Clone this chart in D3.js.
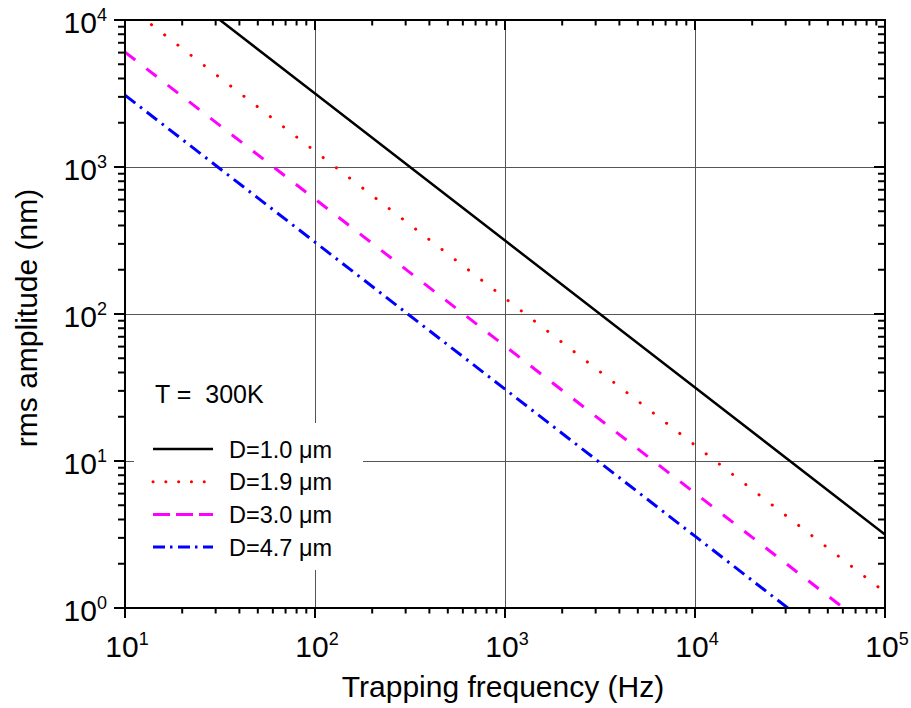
<!DOCTYPE html>
<html>
<head>
<meta charset="utf-8">
<script src="https://cdn.jsdelivr.net/npm/d3@7"></script>
<style>
  body { margin: 0; background: #fff; }
  svg { display: block; font-family: "Liberation Sans", Arial, sans-serif; }
  text { white-space: pre; }
</style>
</head>
<body>
<svg id="chart" width="911" height="708"></svg>
<script>
// ---- data ----
const frequencies = [10, 100, 1000, 10000, 100000];          // Hz
const ampD10 = [31600, 3160, 316, 31.6, 3.16];               // nm, D=1.0 µm
const ampD19 = [12800, 1280, 128, 12.8, 1.28];               // nm, D=1.9 µm
const ampD30 = [6050, 605, 60.5, 6.05, 0.605];               // nm, D=3.0 µm
const ampD47 = [3080, 308, 30.8, 3.08, 0.308];               // nm, D=4.7 µm
const seriesNames = ["D=1.0 \u03bcm", "D=1.9 \u03bcm", "D=3.0 \u03bcm", "D=4.7 \u03bcm"];
const xTickExps = [1, 2, 3, 4, 5];
const yTickExps = [0, 1, 2, 3, 4];
const annotation = "T =  300K";
const xTitle = "Trapping frequency (Hz)";
const yTitle = "rms amplitude (nm)";

// ---- layout ----
const L = 125, R = 885, T = 20, B = 608;
const svg = d3.select("#chart");
const x = d3.scaleLog().domain([10, 1e5]).range([L, R]);
const y = d3.scaleLog().domain([1, 1e4]).range([B, T]);

const isMajor = v => Math.abs(Math.log10(v) - Math.round(Math.log10(v))) < 1e-9;

// grid lines at major ticks (interior)
const grid = svg.append("g").attr("stroke", "#555").attr("stroke-width", 1);
x.ticks().filter(isMajor).forEach(v => {
  const px = Math.round(x(v)) + 0.5;
  if (px > L + 2 && px < R - 2)
    grid.append("line").attr("x1", px).attr("x2", px).attr("y1", T).attr("y2", B);
});
y.ticks().filter(isMajor).forEach(v => {
  const py = Math.round(y(v)) + 0.5;
  if (py > T + 2 && py < B - 2)
    grid.append("line").attr("x1", L).attr("x2", R).attr("y1", py).attr("y2", py);
});

// white legend backing box (hides grid lines)
svg.append("rect").attr("x", 134).attr("y", 423).attr("width", 229).attr("height", 147).attr("fill", "#fff");

// clip
svg.append("clipPath").attr("id", "clip").append("rect")
  .attr("x", L).attr("y", T).attr("width", R - L).attr("height", B - T);

const styles = [
  { data: ampD10, color: "#000000", width: 2.5, dash: null, cap: "butt" },
  { data: ampD19, color: "#ff0000", width: 3, dash: "0.1 16.6", cap: "round" },
  { data: ampD30, color: "#ff00ff", width: 3, dash: "13 14", cap: "butt" },
  { data: ampD47, color: "#0000ff", width: 3, dash: "13 6 2.5 6", cap: "butt" }
];

const line = d3.line().x(d => x(d[0])).y(d => y(d[1]));
const plot = svg.append("g").attr("clip-path", "url(#clip)");
styles.forEach(s => {
  plot.append("path")
    .datum(frequencies.map((f, i) => [f, s.data[i]]))
    .attr("d", line)
    .attr("fill", "none")
    .attr("stroke", s.color)
    .attr("stroke-width", s.width)
    .attr("stroke-linecap", s.cap)
    .attr("stroke-dasharray", s.dash);
});

// axes frame
svg.append("rect").attr("x", L).attr("y", T).attr("width", R - L).attr("height", B - T)
  .attr("fill", "none").attr("stroke", "#000").attr("stroke-width", 2);

// ticks
const tk = svg.append("g").attr("stroke", "#000").attr("stroke-width", 2);
x.ticks().forEach(v => {
  const px = x(v), len = isMajor(v) ? 10 : 5.5;
  tk.append("line").attr("x1", px).attr("x2", px).attr("y1", B).attr("y2", B + len);
  tk.append("line").attr("x1", px).attr("x2", px).attr("y1", T).attr("y2", T + len);
});
y.ticks().forEach(v => {
  const py = y(v), len = isMajor(v) ? 11 : 7;
  tk.append("line").attr("x1", L - len).attr("x2", L).attr("y1", py).attr("y2", py);
  tk.append("line").attr("x1", R - len).attr("x2", R).attr("y1", py).attr("y2", py);
});

// tick labels
function powLabel(g, exp, px, py, anchor) {
  const t = g.append("text").attr("x", px).attr("y", py)
    .attr("text-anchor", anchor).attr("font-size", 30).attr("fill", "#000");
  t.append("tspan").text("10");
  t.append("tspan").attr("font-size", 18).attr("dy", -12).text(String(exp));
}
const lab = svg.append("g");
xTickExps.forEach(e => powLabel(lab, e, x(Math.pow(10, e)) + 2, 657, "middle"));
yTickExps.forEach(e => powLabel(lab, e, 107, y(Math.pow(10, e)) + 13, "end"));

// axis titles
svg.append("text").attr("x", 503).attr("y", 697).attr("text-anchor", "middle")
  .attr("font-size", 30).text(xTitle);
svg.append("text").attr("transform", "translate(37,318) rotate(-90)")
  .attr("text-anchor", "middle").attr("font-size", 30).text(yTitle);

// annotation
svg.append("text").attr("x", 155).attr("y", 403).attr("font-size", 25).text(annotation);

// legend
const leg = svg.append("g");
styles.forEach((s, i) => {
  const cy = 449 + i * 32.7;
  leg.append("line").attr("x1", 153).attr("x2", 213).attr("y1", cy).attr("y2", cy)
    .attr("stroke", s.color).attr("stroke-width", s.width)
    .attr("stroke-linecap", s.cap)
    .attr("stroke-dasharray", i === 1 ? "0.1 12.7" : (i === 2 ? "17 6" : (i === 3 ? "12 5 2.5 5.5" : null)));
  leg.append("text").attr("x", 229).attr("y", cy + 8.5).attr("font-size", 23.5).text(seriesNames[i]);
});
</script>
</body>
</html>
